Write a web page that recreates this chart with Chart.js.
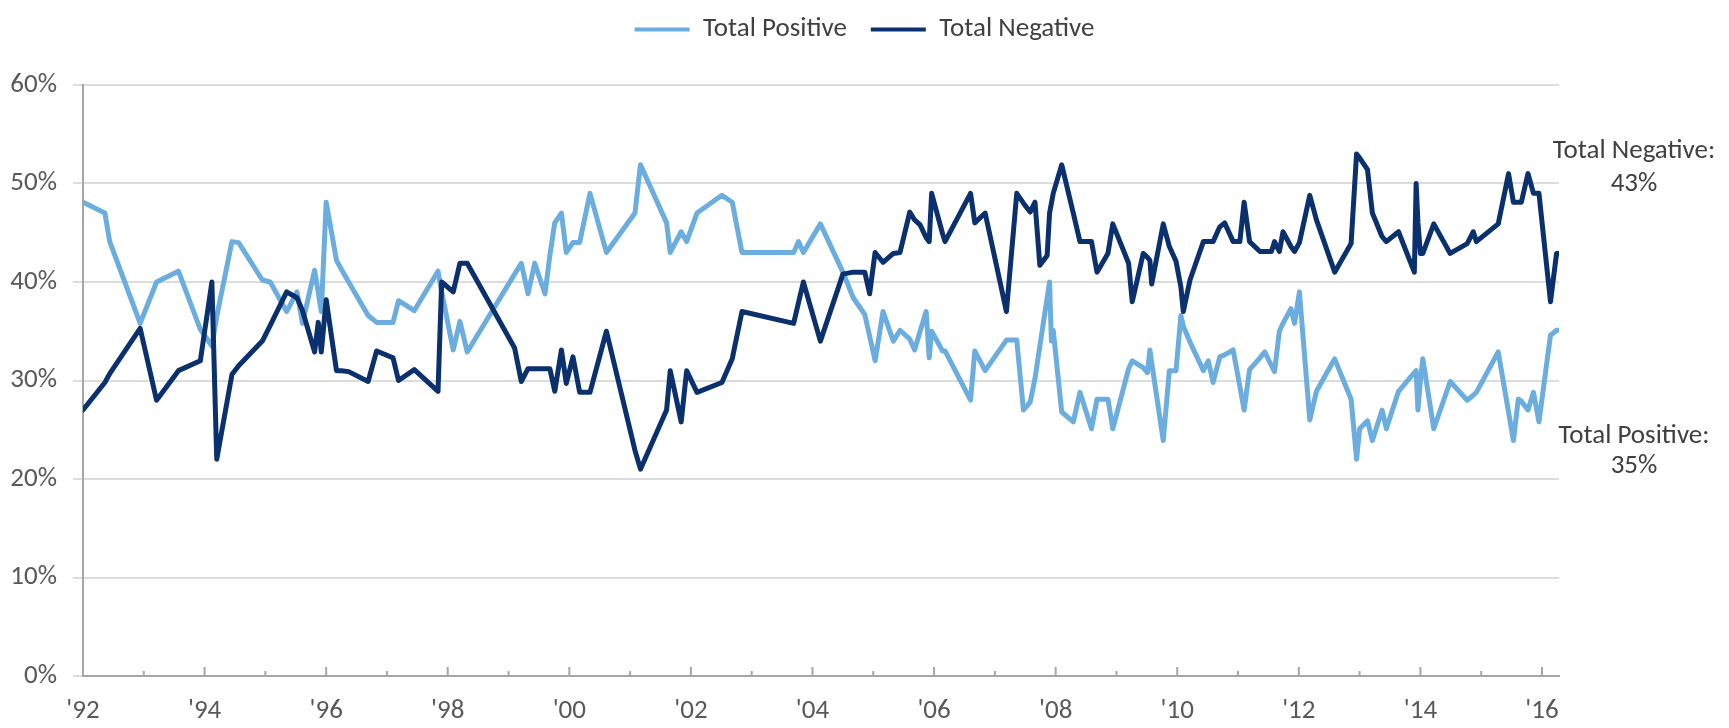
<!DOCTYPE html>
<html>
<head>
<meta charset="utf-8">
<script src="https://cdn.jsdelivr.net/npm/chart.js@4.4.1/dist/chart.umd.min.js"></script>
<style>
  html, body { margin: 0; padding: 0; background: #fff; }
</style>
</head>
<body>
<canvas id="chart" width="1729" height="728"></canvas>
<script>
// survey dates as decimal years, values in percent
const surveyDates = [
  1992.00, 1992.36, 1992.44, 1992.94, 1993.21, 1993.57, 1993.93, 1994.12, 1994.20, 1994.45, 1994.56, 1994.95,
  1995.08, 1995.35, 1995.52, 1995.61, 1995.81, 1995.87, 1995.92, 1996.00, 1996.17, 1996.25, 1996.37, 1996.69,
  1996.83, 1997.10, 1997.19, 1997.45, 1997.84, 1997.90, 1998.09, 1998.20, 1998.32, 1999.10, 1999.21, 1999.32,
  1999.43, 1999.60, 1999.68, 1999.76, 1999.87, 1999.95, 2000.06, 2000.17, 2000.34, 2000.61, 2001.08, 2001.17,
  2001.60, 2001.66, 2001.84, 2001.93, 2002.10, 2002.51, 2002.68, 2002.84, 2003.69, 2003.77, 2003.85, 2004.13,
  2004.50, 2004.67, 2004.86, 2004.94, 2005.03, 2005.16, 2005.33, 2005.44, 2005.60, 2005.68, 2005.77, 2005.87,
  2005.92, 2005.96, 2006.14, 2006.18, 2006.60, 2006.67, 2006.84, 2007.19, 2007.36, 2007.47, 2007.58, 2007.66,
  2007.74, 2007.86, 2007.90, 2007.93, 2007.96, 2008.10, 2008.29, 2008.40, 2008.59, 2008.68, 2008.86, 2008.94,
  2009.20, 2009.26, 2009.44, 2009.51, 2009.55, 2009.58, 2009.77, 2009.87, 2009.98, 2010.06, 2010.10, 2010.21,
  2010.43, 2010.51, 2010.59, 2010.70, 2010.78, 2010.92, 2011.03, 2011.10, 2011.19, 2011.36, 2011.44, 2011.55,
  2011.60, 2011.68, 2011.74, 2011.87, 2011.93, 2012.01, 2012.18, 2012.29, 2012.59, 2012.86, 2012.95, 2013.00,
  2013.13, 2013.21, 2013.37, 2013.44, 2013.64, 2013.90, 2013.93, 2013.96, 2014.00, 2014.04, 2014.22, 2014.49,
  2014.77, 2014.87, 2014.92, 2015.28, 2015.45, 2015.53, 2015.61, 2015.66, 2015.77, 2015.86, 2015.95, 2016.14,
  2016.24, 2016.28
];
const totalPositive = [
  48.1, 47.0, 44.1, 35.8, 40.0, 41.1, 35.2, 33.5, 36.5, 44.1, 44.0, 40.2,
  40.0, 37.0, 39.0, 35.8, 41.2, 38.9, 37.0, 48.1, 42.2, 41.3, 40.0, 36.6,
  35.9, 35.9, 38.1, 37.1, 41.1, 39.0, 33.1, 36.0, 32.9, 40.8, 41.9, 38.8,
  41.9, 38.8, 42.7, 46.0, 47.0, 43.0, 44.0, 44.0, 49.0, 43.0, 47.0, 51.9,
  46.0, 43.0, 45.1, 44.1, 47.0, 48.8, 48.1, 43.0, 43.0, 44.1, 43.0, 45.9,
  41.0, 38.4, 36.7, 34.5, 32.0, 37.0, 34.0, 35.1, 34.2, 33.1, 35.0, 37.0,
  32.3, 35.0, 33.0, 33.0, 28.0, 33.0, 31.0, 34.1, 34.1, 27.0, 27.8, 30.2,
  33.5, 38.4, 40.0, 34.0, 35.1, 26.8, 25.8, 28.8, 25.1, 28.1, 28.1, 25.1,
  31.2, 32.0, 31.3, 30.8, 33.1, 31.8, 23.9, 31.0, 31.0, 36.6, 35.5, 33.9,
  31.0, 32.0, 29.8, 32.4, 32.6, 33.1, 29.4, 27.0, 31.1, 32.3, 32.9, 31.5,
  30.9, 35.0, 35.8, 37.3, 35.8, 39.0, 26.0, 28.9, 32.2, 28.1, 22.0, 25.1,
  25.9, 23.9, 27.0, 25.1, 28.9, 30.8, 31.0, 27.0, 30.0, 32.2, 25.1, 29.9,
  28.0, 28.5, 28.8, 32.9, 26.8, 23.9, 28.1, 27.9, 27.0, 28.8, 25.8, 34.6,
  35.1, 35.1
];
const totalNegative = [
  27.0, 29.8, 30.7, 35.3, 28.0, 31.0, 32.0, 40.0, 22.0, 30.6, 31.5, 34.0,
  35.6, 39.0, 38.4, 37.1, 32.9, 35.9, 32.9, 38.2, 31.0, 31.0, 30.9, 29.9,
  33.0, 32.3, 30.0, 31.1, 28.9, 40.0, 39.0, 41.9, 41.9, 33.3, 29.9, 31.2,
  31.2, 31.2, 31.2, 28.9, 33.1, 29.7, 32.4, 28.8, 28.8, 35.0, 22.9, 21.0,
  27.0, 31.0, 25.8, 31.0, 28.8, 29.8, 32.2, 37.0, 35.8, 37.9, 40.0, 34.0,
  40.8, 41.0, 41.0, 38.8, 43.0, 42.0, 42.9, 43.0, 47.1, 46.3, 45.8, 44.5,
  44.1, 49.0, 44.9, 44.1, 49.0, 46.0, 47.0, 37.0, 49.0, 48.0, 47.1, 48.1,
  41.7, 42.7, 47.0, 48.0, 49.0, 51.9, 47.0, 44.1, 44.1, 41.0, 42.9, 45.9,
  41.9, 38.0, 42.9, 42.5, 42.2, 39.8, 45.9, 43.6, 42.1, 39.5, 37.0, 40.2,
  44.1, 44.1, 44.1, 45.6, 46.0, 44.1, 44.1, 48.1, 44.1, 43.1, 43.1, 43.1,
  44.1, 43.1, 45.1, 43.6, 43.1, 44.0, 48.8, 46.3, 41.0, 43.9, 53.0, 52.6,
  51.4, 47.0, 44.6, 44.1, 45.1, 41.0, 50.0, 46.0, 42.9, 42.9, 45.9, 42.9,
  43.9, 45.1, 44.1, 45.9, 51.0, 48.1, 48.1, 48.1, 51.0, 49.0, 49.0, 38.0,
  42.9, 42.9
];
const seriesNames = ['Total Positive', 'Total Negative'];
const endNotes = ['Total Negative:', '43%', 'Total Positive:', '35%'];

const lightBlue = '#6caddf';
const navy = '#0a306d';
const fontFamily = "Carlito, Lato, 'Liberation Sans', sans-serif";
const fontSize = 27;

const toPoints = vals => surveyDates.map((d, i) => ({ x: d, y: vals[i] }));

// push the plot down under a taller legend box
const legendSpace = {
  id: 'legendSpace',
  beforeInit(chart) {
    const fit = chart.legend.fit;
    chart.legend.fit = function () {
      fit.bind(chart.legend)();
      this.height += 32;
    };
  }
};

// little year ticks that point up from the axis
const yearTicks = {
  id: 'yearTicks',
  beforeDatasetsDraw(chart) {
    const { ctx, chartArea, scales } = chart;
    ctx.save();
    ctx.strokeStyle = '#a6a6a6';
    ctx.lineWidth = 2;
    scales.x.ticks.forEach(t => {
      const px = scales.x.getPixelForValue(t.value);
      const len = t.value % 2 === 0 ? 9 : 5;
      ctx.beginPath();
      ctx.moveTo(px, chartArea.bottom);
      ctx.lineTo(px, chartArea.bottom - len);
      ctx.stroke();
    });
    ctx.restore();
  }
};

// end-of-series notes in the right margin
const sideNotes = {
  id: 'sideNotes',
  afterDraw(chart) {
    const { ctx, chartArea } = chart;
    const cx = chartArea.right + 75;
    const rows = [66, 99, 351, 381];
    ctx.save();
    ctx.font = fontSize + 'px ' + fontFamily;
    ctx.fillStyle = '#404040';
    ctx.textAlign = 'center';
    ctx.textBaseline = 'middle';
    endNotes.forEach((txt, i) => ctx.fillText(txt, cx, chartArea.top + rows[i]));
    ctx.restore();
  }
};

new Chart(document.getElementById('chart'), {
  type: 'line',
  data: {
    datasets: [
      { label: seriesNames[0], data: toPoints(totalPositive), borderColor: lightBlue, backgroundColor: lightBlue, order: 1 },
      { label: seriesNames[1], data: toPoints(totalNegative), borderColor: navy, backgroundColor: navy, order: 0 }
    ]
  },
  options: {
    responsive: false,
    animation: false,
    devicePixelRatio: 1,
    layout: { padding: { top: -8, left: 0, right: 0, bottom: 0 } },
    elements: {
      line: { borderWidth: 5, tension: 0, borderJoinStyle: 'round', borderCapStyle: 'round' },
      point: { radius: 0, hoverRadius: 0 }
    },
    scales: {
      x: {
        type: 'linear',
        min: 1992,
        max: 2016.28,
        afterBuildTicks: s => { s.ticks = s.ticks.filter(t => Number.isInteger(t.value)); },
        afterFit: s => { s.height = 52; },
        grid: { display: false },
        border: { display: true, color: '#a6a6a6', width: 2 },
        ticks: {
          stepSize: 1,
          includeBounds: false,
          autoSkip: false,
          maxRotation: 0,
          padding: 11,
          color: '#595959',
          font: { size: fontSize, family: fontFamily },
          callback: v => (v % 2 === 0 ? "'" + String(v).slice(2) : '')
        }
      },
      y: {
        min: 0,
        max: 60,
        afterFit: s => { s.width = 83; },
        grid: { color: '#dcdcdc', lineWidth: 2, tickLength: 10 },
        border: { color: '#a6a6a6', width: 2 },
        ticks: {
          stepSize: 10,
          padding: 16,
          color: '#595959',
          font: { size: fontSize, family: fontFamily },
          callback: v => v + '%'
        }
      },
      gutter: {
        type: 'linear',
        position: 'right',
        afterFit: s => { s.width = 170; },
        grid: { display: false },
        border: { display: false },
        ticks: { display: false }
      }
    },
    plugins: {
      tooltip: { enabled: false },
      legend: {
        position: 'top',
        reverse: true,
        labels: {
          boxWidth: 55,
          boxHeight: 4,
          padding: 24,
          color: '#404040',
          font: { size: fontSize, family: fontFamily },
          generateLabels: chart =>
            Chart.defaults.plugins.legend.labels.generateLabels(chart).map(l => ({ ...l, lineWidth: 0 }))
        }
      }
    }
  },
  plugins: [legendSpace, yearTicks, sideNotes]
});
</script>
</body>
</html>
